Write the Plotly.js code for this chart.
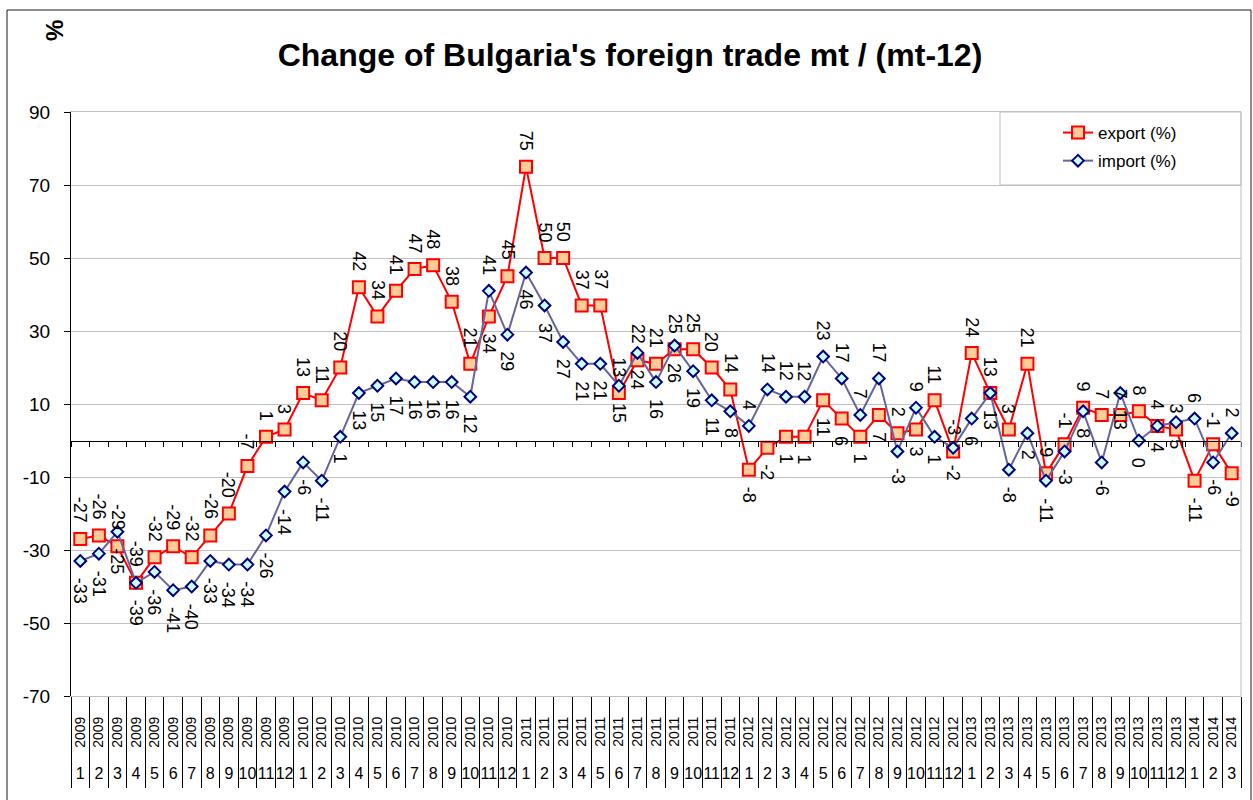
<!DOCTYPE html>
<html>
<head>
<meta charset="utf-8">
<script src="https://cdn.plot.ly/plotly-3.0.1.min.js"></script>
<style>
  html, body { margin: 0; padding: 0; background: #ffffff; }
  #chart { width: 1253px; height: 800px; }
</style>
</head>
<body>
<div id="chart"></div>
<script>
// ---- data ----
const years = ["2009","2009","2009","2009","2009","2009","2009","2009","2009","2009","2009","2009",
  "2010","2010","2010","2010","2010","2010","2010","2010","2010","2010","2010","2010",
  "2011","2011","2011","2011","2011","2011","2011","2011","2011","2011","2011","2011",
  "2012","2012","2012","2012","2012","2012","2012","2012","2012","2012","2012","2012",
  "2013","2013","2013","2013","2013","2013","2013","2013","2013","2013","2013","2013",
  "2014","2014","2014"];
const months = ["1","2","3","4","5","6","7","8","9","10","11","12",
  "1","2","3","4","5","6","7","8","9","10","11","12",
  "1","2","3","4","5","6","7","8","9","10","11","12",
  "1","2","3","4","5","6","7","8","9","10","11","12",
  "1","2","3","4","5","6","7","8","9","10","11","12",
  "1","2","3"];
const exportPct = [-27,-26,-29,-39,-32,-29,-32,-26,-20,-7,1,3,
  13,11,20,42,34,41,47,48,38,21,34,45,
  75,50,50,37,37,13,22,21,25,25,20,14,
  -8,-2,1,1,11,6,1,7,2,3,11,-3,
  24,13,3,21,-9,-1,9,7,7,8,4,3,
  -11,-1,-9];
const importPct = [-33,-31,-25,-39,-36,-41,-40,-33,-34,-34,-26,-14,
  -6,-11,1,13,15,17,16,16,16,12,41,29,
  46,37,27,21,21,15,24,16,26,19,11,8,
  4,14,12,12,23,17,7,17,-3,9,1,-2,
  6,13,-8,2,-11,-3,8,-6,13,0,4,5,
  6,-6,2];
const yTicks = [-70,-50,-30,-10,10,30,50,70,90];
const titleText = "Change of Bulgaria's foreign trade mt / (mt-12)";
// points where the import label sits above and the export label below
const swappedLabels = [22,36,37,38,39,40,41,42,43,45,60,62];

// ---- build ----
const FONT = "Liberation Sans, Arial, sans-serif";
const NARROW = "Liberation Sans Narrow, Arial Narrow, Liberation Sans, Arial, sans-serif";
const n = years.length;
const idx = years.map((_, i) => i);
const bounds = [];
for (let i = 0; i <= n; i++) bounds.push(i - 0.5);
const yMin = yTicks[0], yMax = yTicks[yTicks.length - 1];
const xRange = [-0.5, n - 0.5];

const traces = [
  {
    x: idx, y: exportPct, name: "export (%)", type: "scatter", mode: "lines+markers",
    legendgroup: "a",
    line: { color: "#FF0000", width: 2 },
    marker: { symbol: "square", size: 12, color: "#FFCC99", line: { color: "#FF0000", width: 2 } },
    hoverinfo: "skip"
  },
  {
    x: idx, y: importPct, name: "import (%)", type: "scatter", mode: "lines+markers",
    legendgroup: "b",
    line: { color: "#666699", width: 2 },
    marker: { symbol: "diamond", size: 9, color: "#CCFFFF", line: { color: "#000080", width: 2 } },
    hoverinfo: "skip"
  },
  // empty helpers so the overlaid axes are drawn
  { x: [0], y: [null], xaxis: "x2", yaxis: "y", type: "scatter", mode: "markers", showlegend: false, hoverinfo: "skip" },
  { x: [0], y: [null], xaxis: "x3", yaxis: "y", type: "scatter", mode: "markers", showlegend: false, hoverinfo: "skip" }
];

const LBL = { family: FONT, size: 18, color: "#000" };
function lbl(i, v, above) {
  return {
    x: i, y: v, xref: "x", yref: "y", text: String(v),
    textangle: 90, showarrow: false, xanchor: "center",
    yanchor: above ? "bottom" : "top", yshift: above ? 14 : -15,
    font: LBL
  };
}
const annotations = [];
idx.forEach(i => {
  const sw = swappedLabels.indexOf(i) >= 0;
  annotations.push(lbl(i, exportPct[i], !sw));
  annotations.push(lbl(i, importPct[i], sw));
});
// "%" axis label
annotations.push({
  xref: "paper", yref: "paper", x: (55 - 71) / 1170, y: (696 - 31) / 584,
  text: "<b>%</b>", textangle: -90, showarrow: false, xanchor: "center", yanchor: "middle",
  font: { family: FONT, size: 24, color: "#000" }
});

const shapes = [
  // legend box
  { type: "rect", xref: "paper", yref: "paper", layer: "between",
    x0: (1000 - 71) / 1170, x1: 1, y0: (696 - 185) / 584, y1: 1,
    fillcolor: "#FFFFFF", line: { color: "#BFBFBF", width: 1 } },
  // right border of plot area
  { type: "line", xref: "paper", yref: "paper", x0: 1, x1: 1, y0: 0, y1: 1,
    line: { color: "#BFBFBF", width: 1 } },
  // chart area border
  { type: "rect", xref: "paper", yref: "paper",
    x0: (7 - 71) / 1170, x1: (1251 - 71) / 1170, y0: (696 - 803) / 584, y1: (696 - 10) / 584,
    line: { color: "#1a1a1a", width: 1 } }
];

const layout = {
  width: 1253, height: 800,
  margin: { l: 71, r: 12, t: 112, b: 104 },
  paper_bgcolor: "#FFFFFF", plot_bgcolor: "#FFFFFF",
  font: { family: FONT, color: "#000" },
  title: {
    text: "<b>" + titleText + "</b>",
    font: { family: FONT, size: 32, color: "#000" },
    x: 630 / 1253, xanchor: "center", xref: "container",
    y: 1 - 55 / 800, yanchor: "middle", yref: "container"
  },
  showlegend: true,
  legend: {
    x: (1058 - 71) / 1170, xanchor: "left", y: (696 - 115) / 584, yanchor: "top",
    bgcolor: "rgba(0,0,0,0)", borderwidth: 0, tracegroupgap: 3,
    font: { family: FONT, size: 17, color: "#000" }
  },
  xaxis: {
    type: "linear", range: xRange, fixedrange: true,
    tickmode: "array", tickvals: idx, ticktext: years, tickangle: -90,
    tickfont: { family: NARROW, size: 14, color: "#000" },
    ticks: "", ticklabelstandoff: 14,
    showgrid: false, zeroline: false,
    showline: true, linecolor: "#BFBFBF", linewidth: 1, mirror: true,
    minor: { tickmode: "array", tickvals: bounds, ticks: "outside", ticklen: 91, tickcolor: "#000", tickwidth: 1, showgrid: false }
  },
  xaxis2: {
    type: "linear", range: xRange, overlaying: "x", anchor: "y", side: "bottom", fixedrange: true,
    tickmode: "array", tickvals: idx, ticktext: months, tickangle: 0,
    tickfont: { family: FONT, size: 16, color: "#000" },
    ticks: "", ticklabelstandoff: 66,
    showgrid: false, zeroline: false, showline: false
  },
  xaxis3: {
    type: "linear", range: xRange, overlaying: "x", anchor: "free",
    position: (0 - yMin) / (yMax - yMin), side: "bottom", fixedrange: true,
    tickmode: "array", tickvals: bounds, showticklabels: false,
    ticks: "outside", ticklen: 5, tickcolor: "#000", tickwidth: 1,
    showgrid: false, zeroline: false, showline: true, linecolor: "#000", linewidth: 1
  },
  yaxis: {
    range: [yMin, yMax], fixedrange: true,
    tickmode: "array", tickvals: yTicks, ticktext: yTicks.map(String),
    tickfont: { family: FONT, size: 19, color: "#000" },
    ticks: "outside", ticklen: 6, tickcolor: "#000", tickwidth: 1, ticklabelstandoff: 10,
    showgrid: true, gridcolor: "#C0C0C0", gridwidth: 1,
    zeroline: false, showline: true, linecolor: "#000", linewidth: 1
  },
  annotations: annotations,
  shapes: shapes
};

Plotly.newPlot("chart", traces, layout, { displayModeBar: false, staticPlot: true });
</script>
</body>
</html>
